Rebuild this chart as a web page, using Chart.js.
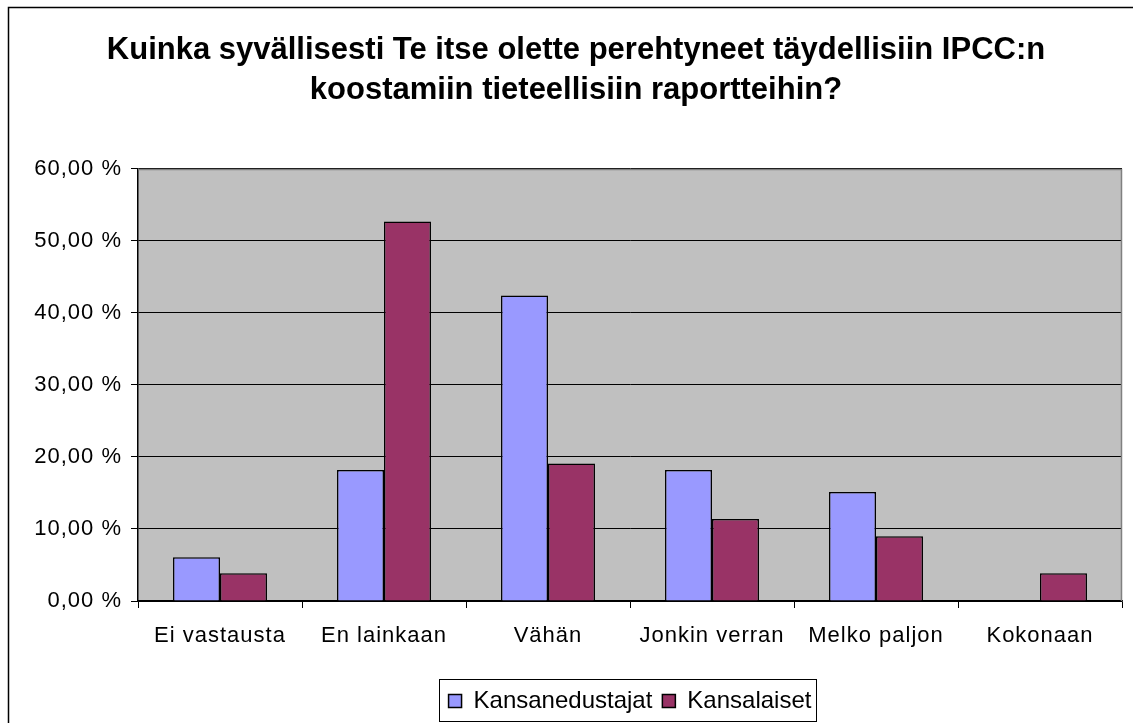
<!DOCTYPE html>
<html>
<head>
<meta charset="utf-8">
<title>IPCC-raportit</title>
<script src="https://cdn.jsdelivr.net/npm/chart.js@4.4.1/dist/chart.umd.min.js"></script>
<style>
  html, body { margin: 0; padding: 0; background: #fff; }
  #wrap { width: 1133px; height: 723px; }
</style>
</head>
<body>
<div id="wrap"><canvas id="chart"></canvas></div>
<script>
// Vastausvaihtoehdot ja osuudet (%)
const categories = ["Ei vastausta", "En lainkaan", "Vähän", "Jonkin verran", "Melko paljon", "Kokonaan"];
const kansanedustajat = [6.06, 18.18, 42.42, 18.18, 15.15, 0];
const kansalaiset = [3.85, 52.7, 19.1, 11.4, 9.0, 3.85];
const yTicks = [0, 10, 20, 30, 40, 50, 60];
const titleLines = [
  "Kuinka syvällisesti Te itse olette perehtyneet täydellisiin IPCC:n",
  "koostamiin tieteellisiin raportteihin?"
];

const FONT = "'Liberation Sans', Arial, sans-serif";

// Excel-tyyliset taustat ja kehykset
const excelFrame = {
  id: "excelFrame",
  beforeDraw(chart) {
    const { ctx, chartArea: a } = chart;
    ctx.letterSpacing = "0px";
    ctx.save();
    ctx.fillStyle = "#fff";
    ctx.fillRect(0, 0, chart.width, chart.height);
    ctx.strokeStyle = "#000";
    ctx.lineWidth = 1.5;
    ctx.strokeRect(8.5, 7.5, chart.width + 50, chart.height + 50);
    ctx.fillStyle = "#C0C0C0";
    ctx.fillRect(a.left, a.top, a.right - a.left, a.bottom - a.top);
    ctx.restore();
  },
  afterDatasetsDraw(chart) {
    // akselien tekstit piirretään tämän jälkeen (ticks.z = 1)
    chart.ctx.letterSpacing = "1px";
  },
  afterDraw(chart) {
    const { ctx, chartArea: a, legend } = chart;
    ctx.letterSpacing = "0px";
    ctx.save();
    ctx.strokeStyle = "#808080";
    ctx.lineWidth = 1.5;
    ctx.beginPath();
    ctx.moveTo(a.left, a.top + 0.5);
    ctx.lineTo(a.right - 0.5, a.top + 0.5);
    ctx.lineTo(a.right - 0.5, a.bottom);
    ctx.stroke();

    const boxes = legend.legendHitBoxes;
    if (boxes && boxes.length) {
      const left = Math.min(...boxes.map(b => b.left)) - 10;
      const right = Math.max(...boxes.map(b => b.left + b.width)) + 4;
      ctx.strokeStyle = "#000";
      ctx.lineWidth = 1;
      ctx.strokeRect(Math.round(left) + 0.5, legend.top + 0.5, Math.round(right - left), legend.height - 2);
    }
    ctx.restore();
  }
};

const ctx = document.getElementById("chart").getContext("2d");

new Chart(ctx, {
  type: "bar",
  data: {
    labels: categories,
    datasets: [
      {
        label: "Kansanedustajat",
        data: kansanedustajat,
        backgroundColor: "#9999FF",
        borderColor: "#000",
        borderWidth: 1.5
      },
      {
        label: "Kansalaiset",
        data: kansalaiset,
        backgroundColor: "#993366",
        borderColor: "#000",
        borderWidth: 1.5
      }
    ]
  },
  options: {
    responsive: true,
    maintainAspectRatio: false,
    animation: false,
    categoryPercentage: 0.573,
    barPercentage: 1,
    layout: { padding: { left: 30, right: 11, top: 0, bottom: 0 } },
    plugins: {
      title: {
        display: true,
        text: titleLines,
        color: "#000",
        font: { family: FONT, size: 31, weight: "bold", lineHeight: 1.29 },
        padding: { top: 30, bottom: 59 }
      },
      legend: {
        position: "bottom",
        fullSize: false,
        labels: {
          color: "#000",
          font: { family: FONT, size: 24 },
          boxWidth: 13,
          boxHeight: 13,
          padding: 10
        }
      },
      tooltip: { enabled: false }
    },
    scales: {
      x: {
        grid: {
          display: true,
          drawOnChartArea: false,
          drawTicks: true,
          tickLength: 7,
          color: "#000",
          offset: true
        },
        border: { color: "#000", width: 1.5 },
        ticks: {
          color: "#000",
          font: { family: FONT, size: 22 },
          padding: 15,
          maxRotation: 0,
          autoSkip: false,
          z: 1
        },
        afterFit(scale) { scale.height = 78; }
      },
      y: {
        min: 0,
        max: 60,
        afterBuildTicks(scale) { scale.ticks = yTicks.map(v => ({ value: v })); },
        grid: { color: "#000", lineWidth: 1, tickLength: 7 },
        border: { color: "#000", width: 1.5 },
        ticks: {
          color: "#000",
          font: { family: FONT, size: 22 },
          padding: 9,
          z: 1,
          callback: (v) => v.toFixed(2).replace(".", ",") + " %"
        },
        afterFit(scale) { scale.width = 108; }
      }
    }
  },
  plugins: [excelFrame]
});
</script>
</body>
</html>
